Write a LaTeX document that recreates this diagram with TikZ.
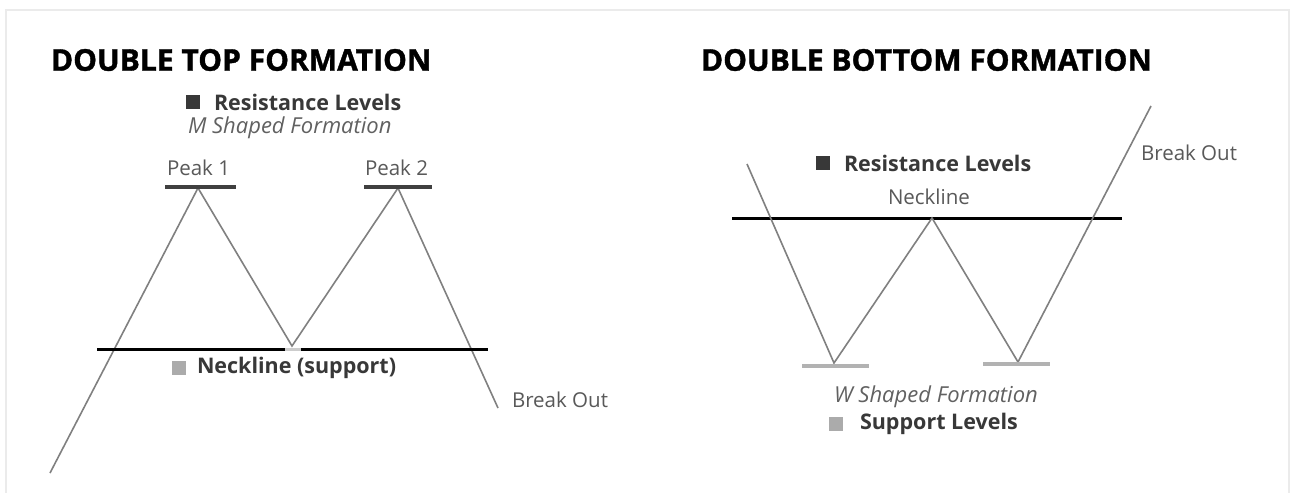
\documentclass[tikz,border=0pt]{standalone}
\usepackage{fontspec}
\setmainfont{Open Sans}
\newfontfamily\heavyfont[BoldFeatures={FakeBold=1.2}]{Open Sans}
\begin{document}
\begin{tikzpicture}[x=1pt,y=-1pt,
  every node/.style={inner sep=0pt,outer sep=0pt},
  title/.style={anchor=west,font=\fontsize{30}{32}\heavyfont\bfseries,text=black},
  legend/.style={anchor=west,font=\fontsize{21.5}{24}\selectfont\bfseries,text=black!78},
  label/.style={anchor=west,font=\fontsize{20.5}{22}\selectfont,text=black!65},
  ital/.style={anchor=west,font=\fontsize{22}{24}\selectfont\itshape,text=black!62},
  darksq/.style={fill=black!78,minimum size=14pt,anchor=west},
  lightsq/.style={fill=black!33,minimum size=14pt,anchor=west},
  price/.style={draw=black!50,line width=1.6pt,line join=miter},
  neck/.style={draw=black,line width=3pt},
  resbar/.style={draw=black!75,line width=3.2pt},
  supbar/.style={draw=black!30,line width=3.2pt},
  frame/.style={draw=black!8,line width=1.5pt}]
\useasboundingbox (0,0) rectangle (1292,493);
\fill[white] (0,0) rectangle (1292,493);
% frame
\coordinate (f1) at (6,493);
\coordinate (f2) at (6,10);
\coordinate (f3) at (1289,10);
\coordinate (f4) at (1289,493);
\draw[frame] (f1) -- (f2) -- (f3) -- (f4);

% ---------- Double top ----------
\node[title] (t1) at (51,60) {DOUBLE TOP FORMATION};
\node[darksq] (rs1) at (186,102) {};
\node[legend] (rl1) at (214,102) {Resistance Levels};
\node[ital] (ms) at (188,128) {M Shaped Formation};
\node[label] (pk1) at (167,168) {Peak 1};
\node[label] (pk2) at (365,168) {Peak 2};

\coordinate (a0) at (50,473);
\coordinate (a1) at (198,188);
\coordinate (a2) at (292,346);
\coordinate (a3) at (398,188);
\coordinate (a4) at (498,408);
\draw[price] (a0) -- (a1) -- (a2) -- (a3) -- (a4);

\coordinate (b1l) at (165,187);
\coordinate (b1r) at (236,187);
\coordinate (b2l) at (364,187);
\coordinate (b2r) at (432,187);
\draw[resbar] (b1l) -- (b1r);
\draw[resbar] (b2l) -- (b2r);

\coordinate (n1a) at (97,349);
\coordinate (n1b) at (285,349);
\coordinate (n1c) at (301,349);
\coordinate (n1d) at (488,349);
\draw[neck] (n1a) -- (n1b);
\draw[draw=black!20,line width=3pt] (n1b) -- (n1c);
\draw[neck] (n1c) -- (n1d);

\node[lightsq] (ls1) at (172,368) {};
\node[legend] (nl1) at (197,368) {Neckline (support)};
\node[label] (bo1) at (512,400) {Break Out};

% ---------- Double bottom ----------
\node[title] (t2) at (701,60) {DOUBLE BOTTOM FORMATION};
\node[darksq] (rs2) at (816,163) {};
\node[legend] (rl2) at (844,163) {Resistance Levels};
\node[label] (nk2) at (888,197) {Neckline};
\node[label] (bo2) at (1141,153) {Break Out};

\coordinate (w0) at (747,164);
\coordinate (w1) at (834,363);
\coordinate (w2) at (932,218);
\coordinate (w3) at (1018,362);
\coordinate (w4) at (1151,106);

\coordinate (n2a) at (732,218);
\coordinate (n2b) at (1122,218);
\draw[neck] (n2a) -- (n2b);
\draw[price] (w0) -- (w1) -- (w2) -- (w3) -- (w4);

\coordinate (s1l) at (802,366);
\coordinate (s1r) at (869,366);
\coordinate (s2l) at (983,364);
\coordinate (s2r) at (1050,364);
\draw[supbar] (s1l) -- (s1r);
\draw[supbar] (s2l) -- (s2r);

\node[ital] (ws) at (834,397) {W Shaped Formation};
\node[lightsq] (ls2) at (829,424) {};
\node[legend] (sl2) at (860,424) {Support Levels};
\end{tikzpicture}
\end{document}
